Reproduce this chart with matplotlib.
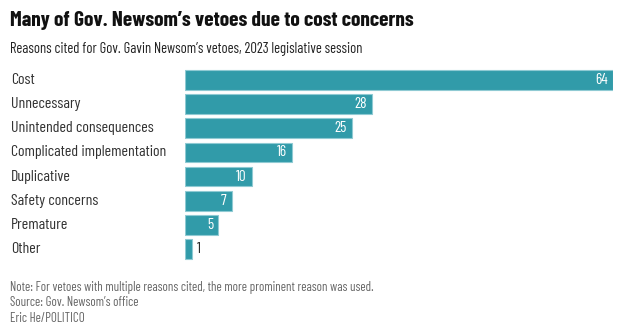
import matplotlib
matplotlib.use("Agg")
import matplotlib.pyplot as plt
from matplotlib import font_manager

categories = ["Cost", "Unnecessary", "Unintended consequences", "Complicated implementation",
              "Duplicative", "Safety concerns", "Premature", "Other"]
values = [64, 28, 25, 16, 10, 7, 5, 1]

names = {f.name for f in font_manager.fontManager.ttflist}
body = "Barlow Condensed" if "Barlow Condensed" in names else "DejaVu Sans"
head = body
plt.rcParams['font.family'] = [body, 'DejaVu Sans']

W, H = 624, 336
fig = plt.figure(figsize=(W/100, H/100), dpi=100)
bar_color = "#319BA9"

ax = fig.add_axes([185/W, (H-261)/H, (613-185)/W, 193/H])
ypos = list(range(len(categories)))
ax.barh(ypos, values, height=0.82, color=bar_color, edgecolor="#8FCAD3", linewidth=0.8)
ax.set_xlim(0, 64)
ax.set_ylim(len(categories)-0.5, -0.5)
ax.axis("off")

for y, v, c in zip(ypos, values, categories):
    if v >= 3:
        ax.text(v - 0.8, y, str(v), ha="right", va="center", color="white", fontsize=11)
    else:
        ax.text(v + 0.8, y, str(v), ha="left", va="center", color="#222222", fontsize=11)
    ax.annotate(c, xy=(0, y), xycoords=("figure fraction", "data"), xytext=(11, 0),
                textcoords="offset pixels", ha="left", va="center", fontsize=11.5, color="#333333")

fig.text(10/W, 1-20/H, "Many of Gov. Newsom\u2019s vetoes due to cost concerns",
         fontsize=15.4, fontweight="bold", color="#111111", va="center", ha="left",
         family=[head, 'DejaVu Sans'])
fig.text(10/W, 1-49/H, "Reasons cited for Gov. Gavin Newsom\u2019s vetoes, 2023 legislative session",
         fontsize=10.5, color="#222222", va="center", ha="left")

foot = ["Note: For vetoes with multiple reasons cited, the more prominent reason was used.",
        "Source: Gov. Newsom\u2019s office", "Eric He/POLITICO"]
for i, t in enumerate(foot):
    fig.text(10/W, 1-(287+16*i)/H, t, fontsize=9.3, color="#666666", va="center", ha="left")

fig.savefig("out.png", dpi=100)
